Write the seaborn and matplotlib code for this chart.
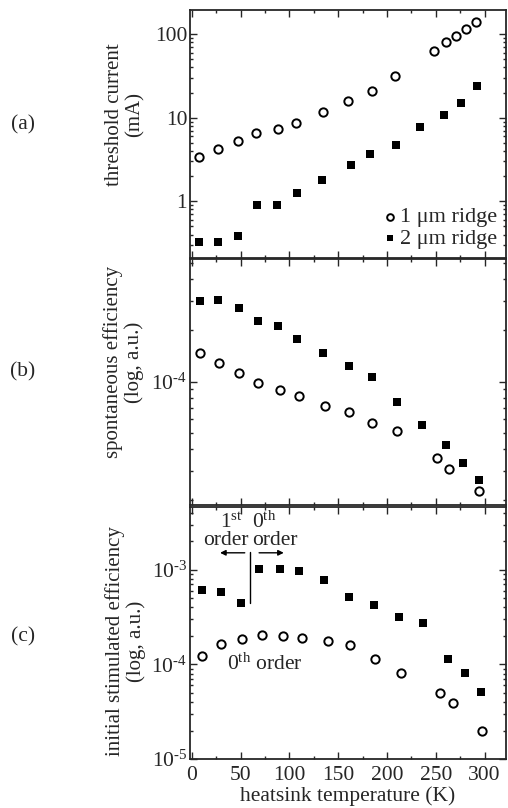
import matplotlib
matplotlib.use("Agg")
import matplotlib.pyplot as plt
import seaborn as sns
import pandas as pd
from matplotlib.ticker import LogLocator, FixedLocator, MultipleLocator, NullFormatter

# panel (a): threshold current (mA)
t_a_1um = [7, 27, 47, 66, 88, 107, 134, 160, 185, 208, 248, 261, 271, 281, 291]
ith_1um = [3.4, 4.2, 5.2, 6.6, 7.3, 8.6, 11.8, 15.8, 21, 31.9, 62.8, 80, 96, 115, 140]
t_a_2um = [7, 27, 47, 67, 87, 108, 133, 163, 183, 209, 234, 258, 276, 292]
ith_2um = [0.33, 0.33, 0.38, 0.91, 0.91, 1.26, 1.81, 2.73, 3.73, 4.77, 7.8, 10.9, 14.8, 24]

# panel (b): spontaneous efficiency
t_b_1um = [8, 28, 48, 68, 90, 110, 136, 161, 185, 210, 251, 264, 294]
spon_1um = [1.48e-4, 1.29e-4, 1.12e-4, 9.8e-5, 8.9e-5, 8.2e-5, 7.2e-5, 6.6e-5,
            5.7e-5, 5.1e-5, 3.54e-5, 3.07e-5, 2.27e-5]
t_b_2um = [8, 27, 48, 68, 88, 108, 134, 161, 185, 210, 236, 261, 278, 294]
spon_2um = [2.99e-4, 3.01e-4, 2.71e-4, 2.27e-4, 2.12e-4, 1.78e-4, 1.48e-4, 1.23e-4,
            1.07e-4, 7.6e-5, 5.58e-5, 4.25e-5, 3.34e-5, 2.63e-5]

# panel (c): initial stimulated efficiency
t_c_1um = [10, 30, 51, 72, 93, 113, 140, 162, 188, 214, 254, 268, 297]
stim_1um = [1.24e-4, 1.63e-4, 1.85e-4, 2.04e-4, 1.98e-4, 1.88e-4, 1.77e-4, 1.59e-4,
            1.14e-4, 8.2e-5, 4.94e-5, 3.9e-5, 1.96e-5]
t_c_2um = [10, 30, 50, 69, 90, 110, 135, 161, 187, 212, 237, 263, 280, 296]
stim_2um = [6.04e-4, 5.8e-4, 4.5e-4, 1.03e-3, 1.02e-3, 9.6e-4, 7.7e-4, 5.1e-4,
            4.27e-4, 3.17e-4, 2.75e-4, 1.13e-4, 8.2e-5, 5.07e-5]

sns.set_style("ticks")
plt.rcParams["font.family"] = ["Liberation Serif", "DejaVu Serif"]
plt.rcParams["mathtext.fontset"] = "custom"
plt.rcParams["mathtext.rm"] = "Liberation Serif"
plt.rcParams["mathtext.it"] = "Liberation Serif:italic"
plt.rcParams["font.size"] = 15

FS = 15.5
LFS = 15

fig = plt.figure(figsize=(5.08, 8.08), dpi=100)
left, width = 0.374, 0.622
ax_a = fig.add_axes([left, 0.6807, width, 0.3069])
ax_b = fig.add_axes([left, 0.375, width, 0.3045])
ax_c = fig.add_axes([left, 0.0606, width, 0.3119])

open_kw = dict(marker="o", s=36, facecolor="white", edgecolor="black", linewidth=1.4)
fill_kw = dict(marker="s", s=36, color="black", edgecolor="black", linewidth=0)

panels = [
    (ax_a, t_a_1um, ith_1um, t_a_2um, ith_2um),
    (ax_b, t_b_1um, spon_1um, t_b_2um, spon_2um),
    (ax_c, t_c_1um, stim_1um, t_c_2um, stim_2um),
]
for ax, t1, y1, t2, y2 in panels:
    d1 = pd.DataFrame({"T": t1, "y": y1})
    d2 = pd.DataFrame({"T": t2, "y": y2})
    sns.scatterplot(data=d1, x="T", y="y", ax=ax, label="1 μm ridge", **open_kw)
    sns.scatterplot(data=d2, x="T", y="y", ax=ax, label="2 μm ridge", **fill_kw)
    ax.set_yscale("log")
    ax.set_xlim(-2, 322)
    ax.xaxis.set_major_locator(MultipleLocator(50))
    ax.xaxis.set_minor_locator(MultipleLocator(25))
    ax.yaxis.set_minor_locator(LogLocator(base=10, subs=range(2, 10)))
    ax.yaxis.set_minor_formatter(NullFormatter())
    ax.tick_params(which="both", direction="in", top=True, right=True, width=1)
    ax.tick_params(which="major", length=5, labelsize=FS, pad=2)
    ax.tick_params(axis="x", which="major", pad=5)
    ax.tick_params(which="minor", length=2.5)
    ax.set_xlabel("")
    for s in ax.spines.values():
        s.set_linewidth(1.3)

ax_a.set_ylim(0.21, 194)
ax_a.yaxis.set_major_locator(FixedLocator([1, 10, 100]))
ax_a.set_yticklabels(["1", "10", "100"])
ax_a.set_ylabel("threshold current\n(mA)", fontsize=LFS, linespacing=1.1)
ax_a.yaxis.set_label_coords(-0.145, 0.58)
ax_a.tick_params(labelbottom=False)
leg = ax_a.legend(loc="lower right", frameon=False, fontsize=16, handletextpad=0.0,
                  borderaxespad=0.0, labelspacing=0.05, handlelength=0.9, markerscale=0.8)

ax_b.set_ylim(1.88e-5, 5.27e-4)
ax_b.yaxis.set_major_locator(FixedLocator([1e-4]))
ax_b.set_yticklabels([r"$10^{\text{-}4}$"])
ax_b.set_ylabel("spontaneous efficiency\n(log, a.u.)", fontsize=LFS, linespacing=1.1)
ax_b.yaxis.set_label_coords(-0.145, 0.58)
ax_b.tick_params(labelbottom=False)
ax_b.get_legend().remove()

ax_c.set_ylim(1e-5, 4.6e-3)
ax_c.yaxis.set_major_locator(FixedLocator([1e-5, 1e-4, 1e-3]))
ax_c.set_yticklabels([r"$10^{\text{-}5}$", r"$10^{\text{-}4}$", r"$10^{\text{-}3}$"])
ax_c.set_ylabel("initial stimulated efficiency\n(log, a.u.)", fontsize=LFS, linespacing=1.1)
ax_c.yaxis.set_label_coords(-0.14, 0.468)
ax_c.set_xlabel("heatsink temperature (K)", fontsize=FS, labelpad=1)
ax_c.get_legend().remove()

# order annotations in panel (c)
ax_c.plot([60, 60], [4.5e-4, 1.55e-3], color="black", lw=1)
ax_c.annotate("", xy=(26, 1.51e-3), xytext=(57, 1.51e-3),
              arrowprops=dict(arrowstyle="-|>", color="black", lw=1, mutation_scale=8))
ax_c.annotate("", xy=(97, 1.51e-3), xytext=(66, 1.51e-3),
              arrowprops=dict(arrowstyle="-|>", color="black", lw=1, mutation_scale=8))
ax_c.text(40, 2.8e-3, "1$^{\\mathrm{st}}$", ha="center", va="baseline", fontsize=FS)
ax_c.text(74, 2.8e-3, "0$^{\\mathrm{th}}$", ha="center", va="baseline", fontsize=FS)
ax_c.text(35, 1.84e-3, "order", ha="center", va="baseline", fontsize=FS)
ax_c.text(85, 1.84e-3, "order", ha="center", va="baseline", fontsize=FS)
ax_c.text(75, 1.0e-4, "0$^{\\mathrm{th}}$ order", ha="center", va="center", fontsize=FS)

fig.text(0.045, 1 - 125 / 808, "(a)", ha="center", va="center", fontsize=FS)
fig.text(0.045, 1 - 372 / 808, "(b)", ha="center", va="center", fontsize=FS)
fig.text(0.045, 1 - 637 / 808, "(c)", ha="center", va="center", fontsize=FS)

fig.savefig("out.png", dpi=100)
